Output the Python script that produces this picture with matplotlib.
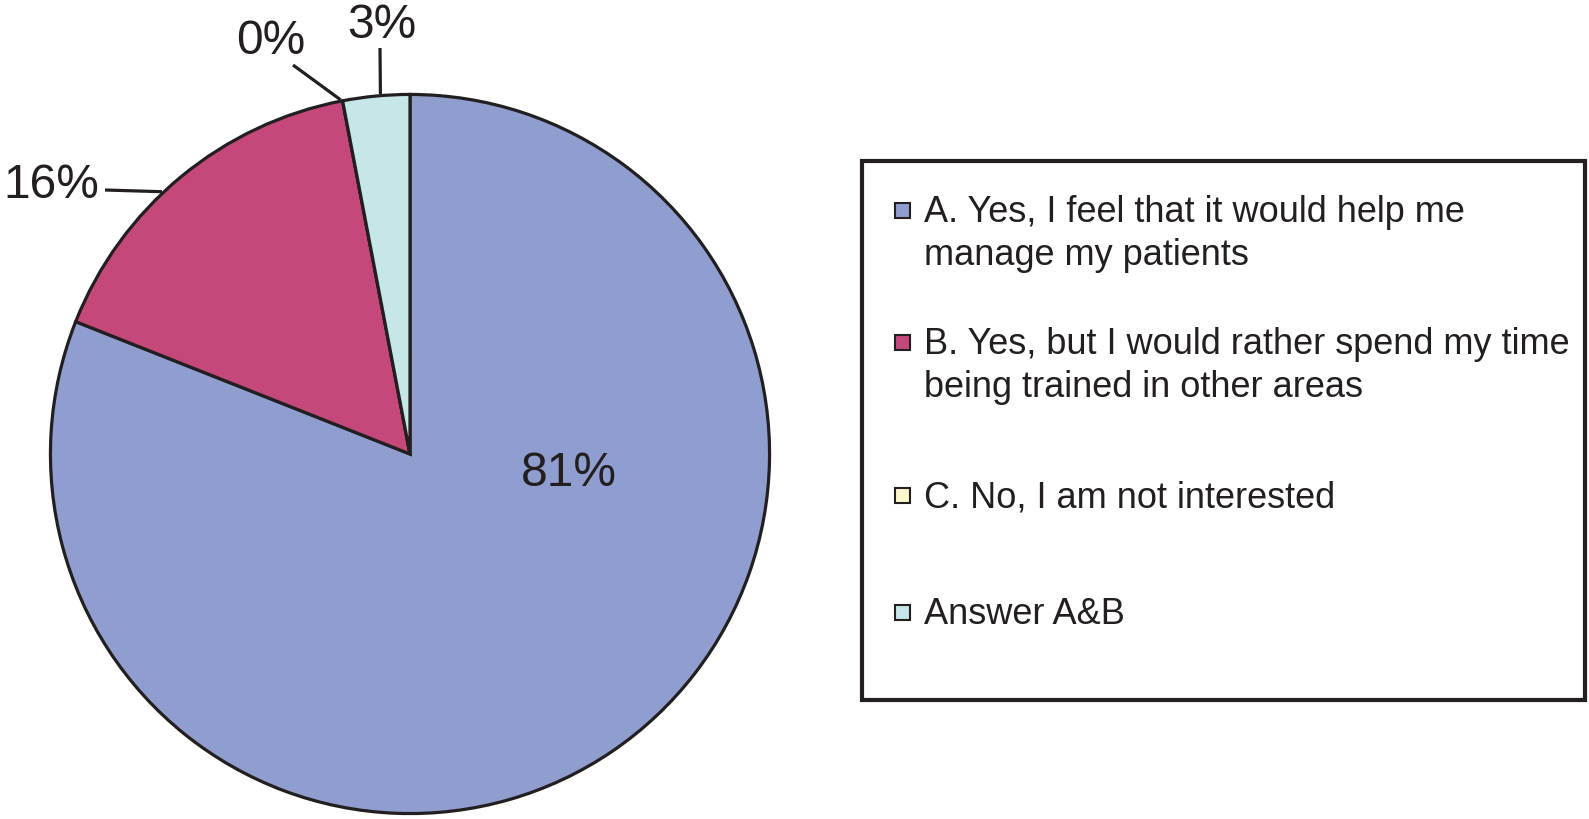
import numpy as np
import matplotlib.pyplot as plt
from matplotlib.patches import Rectangle

labels = ["A. Yes, I feel that it would help me\nmanage my patients",
          "B. Yes, but I would rather spend my time\nbeing trained in other areas",
          "C. No, I am not interested",
          "Answer A&B"]
values = [81, 16, 0, 3]
colors = ["#8f9dcf", "#c4487a", "#fdf7cd", "#c6e7e7"]

INK = "#231f20"
W, H = 1589, 819
plt.rcParams['font.family'] = ['Liberation Sans', 'DejaVu Sans']

fig = plt.figure(figsize=(W / 100, H / 100), dpi=100)

# pie centre / radius in pixels
cx, cy, r = 410, 454, 361
ax = fig.add_axes([(cx - r) / W, (H - cy - r) / H, 2 * r / W, 2 * r / H])
wedges, _ = ax.pie(values, colors=colors, startangle=90, counterclock=False,
                   radius=0.996,
                   wedgeprops=dict(edgecolor=INK, linewidth=2.3))
ax.set_xlim(-1, 1)
ax.set_ylim(-1, 1)
ax.set_aspect('equal')
ax.axis('off')

def px(x, y):
    return (x - cx) / r, (cy - y) / r

# inside label for the big slice
tx, ty = px(569, 474)
ax.text(tx, ty, f"{values[0]}%", fontsize=34.5, color=INK, ha='center', va='center')

# outside labels: (slice index, edge angle, leader end px, label centre px)
outside = [(1, 133.4, (105, 190), (51, 185)),
           (2, 101.1, (293, 65), (271, 41)),
           (3, 94.7, (380, 48), (382, 26))]
for i, ang, end, lab in outside:
    a = np.deg2rad(ang)
    x0, y0 = np.cos(a), np.sin(a)
    x1, y1 = px(*end)
    ax.plot([x0, x1], [y0, y1], color=INK, lw=2.3, clip_on=False,
            solid_capstyle='butt')
    lx, ly = px(*lab)
    ax.text(lx, ly, f"{values[i]}%", fontsize=34.5, color=INK,
            ha='center', va='center', clip_on=False)

# legend box
def fpt(x, y):
    return x / W, 1 - y / H

bx0, by0 = fpt(862, 700)
bx1, by1 = fpt(1585, 161)
fig.add_artist(Rectangle((bx0, by0), bx1 - bx0, by1 - by0, transform=fig.transFigure,
                         facecolor='white', edgecolor=INK, linewidth=3))

baselines = [222, 354, 507, 624]
line_gap = 43
for lab, col, base in zip(labels, colors, baselines):
    mx, my = fpt(895, base - 4)
    fig.add_artist(Rectangle((mx, my), 15 / W, 15 / H, transform=fig.transFigure,
                             facecolor=col, edgecolor=INK, linewidth=1.5))
    for k, line in enumerate(lab.split("\n")):
        x, y = fpt(924, base + k * line_gap)
        fig.text(x, y, line, fontsize=26, color=INK, ha='left', va='baseline')

fig.savefig("out.png", dpi=100)
